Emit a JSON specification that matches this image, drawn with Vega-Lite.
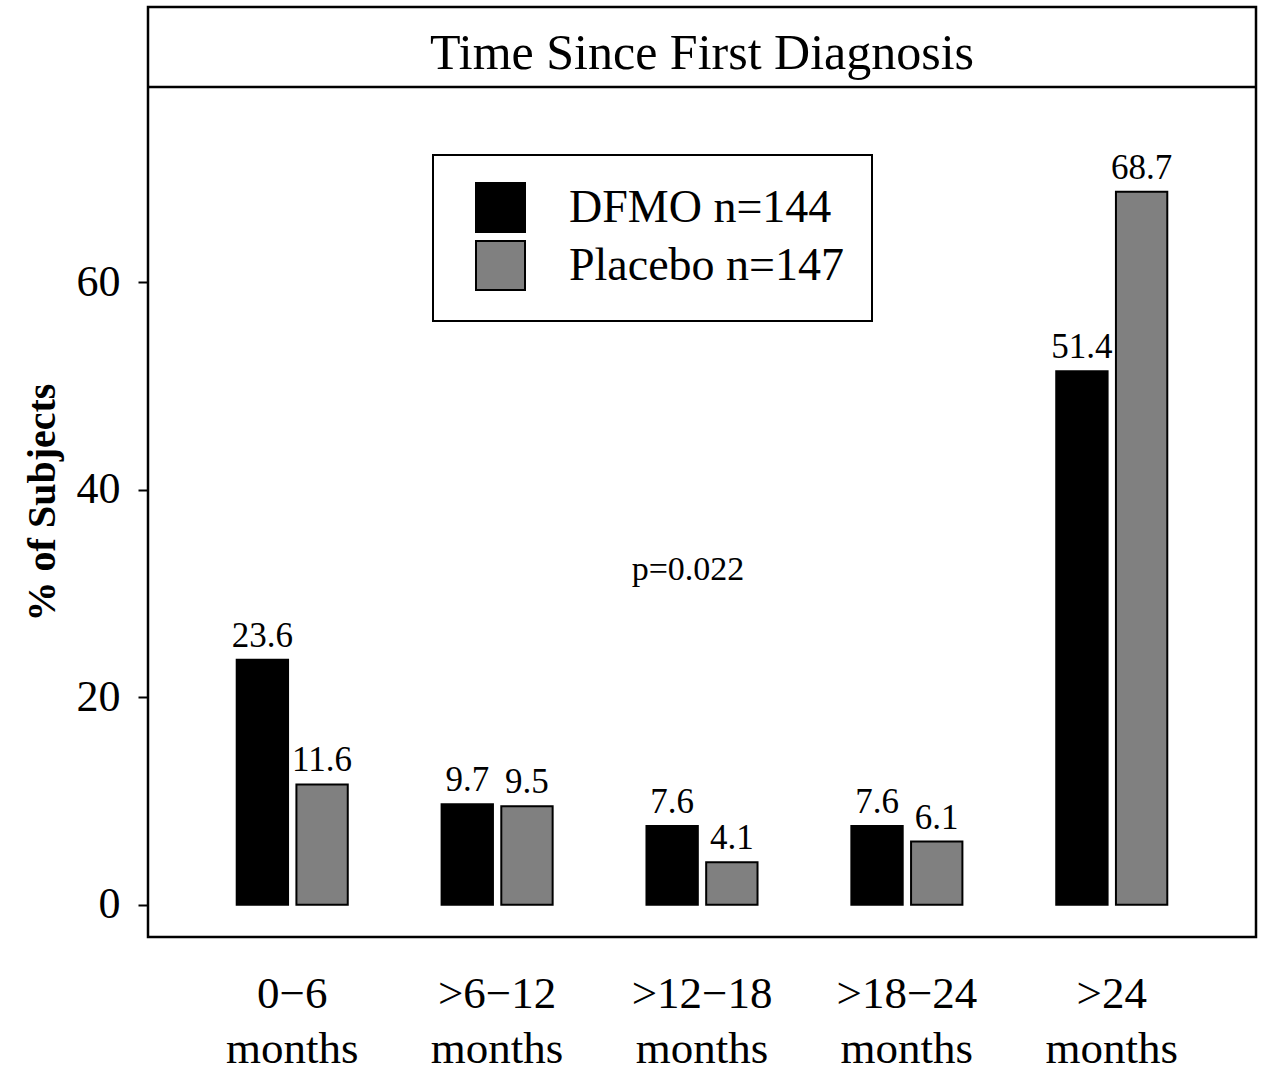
{
  "$schema": "https://vega.github.io/schema/vega-lite/v6.json",
  "autosize": "none",
  "width": 1108,
  "height": 930,
  "padding": {"left": 148, "top": 7, "right": 5, "bottom": 135},
  "background": "white",
  "config": {
    "view": {"stroke": "black", "strokeWidth": 2.5},
    "font": "Liberation Serif",
    "axis": {"labelColor": "black", "tickColor": "black", "titleColor": "black", "grid": false}
  },
  "layer": [
    {
      "data": {"values": [
        {"cat": "0−6 months", "group": "DFMO n=144", "pct": 23.6},
        {"cat": "0−6 months", "group": "Placebo n=147", "pct": 11.6},
        {"cat": ">6−12 months", "group": "DFMO n=144", "pct": 9.7},
        {"cat": ">6−12 months", "group": "Placebo n=147", "pct": 9.5},
        {"cat": ">12−18 months", "group": "DFMO n=144", "pct": 7.6},
        {"cat": ">12−18 months", "group": "Placebo n=147", "pct": 4.1},
        {"cat": ">18−24 months", "group": "DFMO n=144", "pct": 7.6},
        {"cat": ">18−24 months", "group": "Placebo n=147", "pct": 6.1},
        {"cat": ">24 months", "group": "DFMO n=144", "pct": 51.4},
        {"cat": ">24 months", "group": "Placebo n=147", "pct": 68.7}
      ]},
      "encoding": {
        "x": {
          "field": "cat", "type": "nominal",
          "sort": ["0−6 months", ">6−12 months", ">12−18 months", ">18−24 months", ">24 months"],
          "scale": {"paddingInner": 0.458, "paddingOuter": 0.433},
          "axis": {
            "title": null, "ticks": false, "domain": false, "labelAngle": 0,
            "labelExpr": "split(datum.label, ' ')",
            "labelFont": "Liberation Serif", "labelFontSize": 45,
            "labelPadding": 34, "labelLineHeight": 55
          }
        },
        "xOffset": {
          "field": "group", "type": "nominal",
          "scale": {"paddingInner": 0.14, "paddingOuter": 0}
        },
        "y": {
          "field": "pct", "type": "quantitative",
          "scale": {"domain": [-3.1, 86.5], "nice": false, "zero": false},
          "axis": {
            "values": [0, 20, 40, 60], "domain": false,
            "tickSize": 10, "tickWidth": 2,
            "labelFont": "Liberation Serif", "labelFontSize": 44, "labelPadding": 18,
            "title": "% of Subjects", "titleFont": "Liberation Serif", "titleFontSize": 40,
            "titleFontWeight": "bold", "titleX": -86, "titleY": 495,
            "titleAngle": 270, "titleBaseline": "bottom", "titleAlign": "center"
          }
        }
      },
      "layer": [
        {
          "mark": {"type": "bar", "stroke": "black", "strokeWidth": 2},
          "encoding": {
            "color": {
              "field": "group", "type": "nominal",
              "scale": {"domain": ["DFMO n=144", "Placebo n=147"], "range": ["#000000", "#808080"]},
              "legend": {
                "title": null, "orient": "none", "legendX": 285, "legendY": 148,
                "symbolType": "square", "symbolSize": 2401,
                "symbolStrokeColor": "black", "symbolStrokeWidth": 2, "symbolOpacity": 1,
                "symbolOffset": 15,
                "labelFont": "Liberation Serif", "labelFontSize": 46, "labelColor": "black",
                "labelLimit": 600,
                "labelOffset": 43, "rowPadding": 1, "padding": 27,
                "strokeColor": "black", "fillColor": "white",
                "encode": {"legend": {"update": {"strokeWidth": {"value": 2}}}}
              }
            }
          }
        },
        {
          "mark": {"type": "text", "baseline": "alphabetic", "dy": -13, "fontSize": 35, "font": "Liberation Serif", "color": "black"},
          "encoding": {
            "text": {"field": "pct", "type": "quantitative", "format": ".1f"}
          }
        }
      ]
    },
    {
      "data": {"values": [{}]},
      "mark": {"type": "rule", "color": "black", "strokeWidth": 2.5},
      "encoding": {"y": {"datum": 78.8}}
    },
    {
      "data": {"values": [{}]},
      "mark": {"type": "text", "text": "Time Since First Diagnosis", "font": "Liberation Serif", "fontSize": 50, "baseline": "middle", "color": "black"},
      "encoding": {"y": {"datum": 82.0}}
    },
    {
      "data": {"values": [{}]},
      "mark": {"type": "text", "text": "p=0.022", "font": "Liberation Serif", "fontSize": 34, "baseline": "alphabetic", "dx": -14, "color": "black"},
      "encoding": {"y": {"datum": 31.3}}
    }
  ]
}
